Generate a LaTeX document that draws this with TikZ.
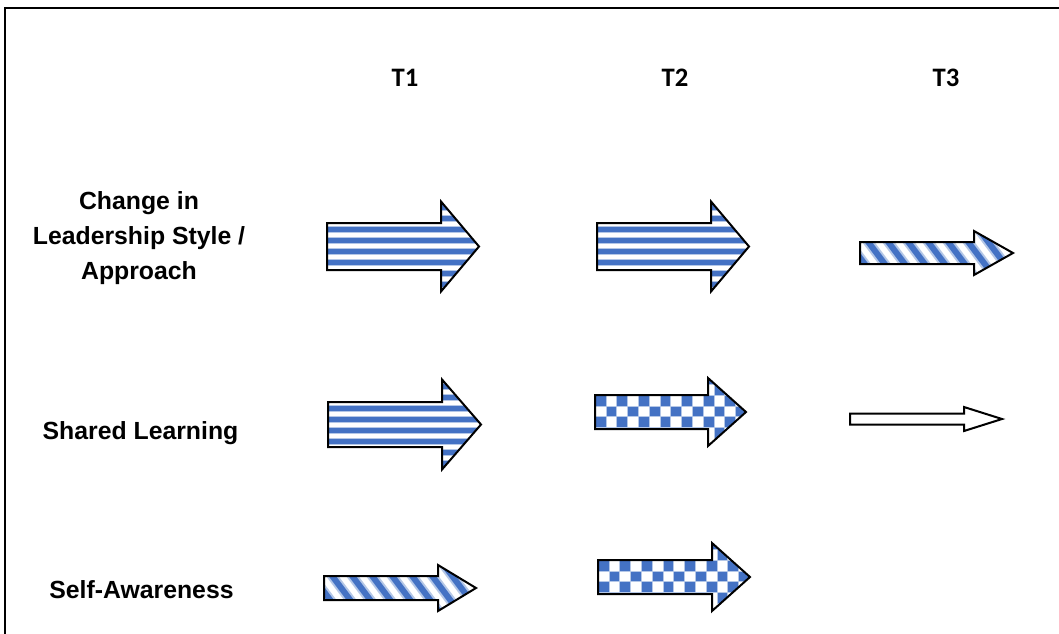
\documentclass[tikz,border=0pt]{standalone}
\usepackage{fontspec}
\setmainfont{Liberation Sans}
\newfontfamily\headfont{Carlito}
\definecolor{stripeblue}{HTML}{4472C4}
\definecolor{stripelight}{HTML}{B4C7E7}
\tikzset{
  outline/.style={draw=black, line width=1.5pt, line join=miter},
  framerule/.style={draw=black, line width=1.5pt},
  rowlabel/.style={font=\bfseries\fontsize{18.6}{26}\selectfont, align=center, inner sep=0pt},
  collabel/.style={font=\headfont\bfseries\fontsize{20}{24}\selectfont, inner sep=0pt},
}
% fill patterns; they use \pl,\pr (left/right), \pt,\pb (top/bottom) and \bt (top of the shaft)
\newcommand\hstripes{%
  \foreach \k in {-3,...,6}{%
    \pgfmathsetmacro\yy{\bt+6.5+11*\k}
    \fill[stripelight] ({\pl},{\yy-3.8}) rectangle ({\pr},{\yy+3.8});
    \fill[stripeblue] ({\pl},{\yy-2.2}) rectangle ({\pr},{\yy+2.2});
  }}
\newcommand\dstripes{%
  \foreach \k in {-8,...,10}{%
    \pgfmathsetmacro\xx{\pl+20*\k}
    \draw[stripelight, line width=7.5pt] ({\xx},{\pt}) -- ({\xx+0.75*(\pb-\pt)},{\pb});
    \draw[stripeblue, line width=4.5pt] ({\xx},{\pt}) -- ({\xx+0.75*(\pb-\pt)},{\pb});
  }}
\newcommand\checks{%
  \foreach \j in {-2,...,3}{%
    \pgfmathsetmacro\off{mod(\j+20,2)*10.8}
    \foreach \i in {0,...,8}{%
      \fill[stripeblue, draw=stripelight, line width=0.4pt]
        ({\pl+\off+21.6*\i},{\bt+10.8*\j}) rectangle +(10.8,10.8);
    }}}
\newcommand\nofill{}
% block arrow: #1 name, #2 tail x, #3 head base x, #4 tip x, #5 axis y,
% #6 shaft half height, #7 head half height, #8 fill pattern
\newcommand\blockarrow[8]{%
  \pgfmathsetmacro\pl{#2}\pgfmathsetmacro\pr{#4}
  \pgfmathsetmacro\pt{#5-#7}\pgfmathsetmacro\pb{#5+#7}
  \pgfmathsetmacro\bt{#5-#6}
  \coordinate (#1-tail) at (#2,#5);
  \coordinate (#1-tip) at (#4,#5);
  \begin{scope}
    \clip (#2,{#5-#6}) -- (#3,{#5-#6}) -- (#3,{#5-#7}) -- (#4,#5)
      -- (#3,{#5+#7}) -- (#3,{#5+#6}) -- (#2,{#5+#6}) -- cycle;
    \fill[white] (#2,{#5-#7}) rectangle (#4,{#5+#7});
    #8
  \end{scope}
  \draw[outline] (#2,{#5-#6}) -- (#3,{#5-#6}) -- (#3,{#5-#7}) -- (#4,#5)
      -- (#3,{#5+#7}) -- (#3,{#5+#6}) -- (#2,{#5+#6}) -- cycle;
}
\begin{document}
\begin{tikzpicture}[x=0.75pt, y=-0.75pt]
  \useasboundingbox (0,0) rectangle (1059,633);
  % open frame: top and left rules
  \draw[framerule] (1062,7.5) -- (5,7.5) -- (5,636);

  % column headings
  \node[collabel] (t1) at (405,78) {T1};
  \node[collabel] (t2) at (675,78) {T2};
  \node[collabel] (t3) at (946,78) {T3};

  % row headings
  \node[rowlabel] (leadership) at (139,238) {Change in\\Leadership Style /\\Approach};
  \node[rowlabel] (shared) at (140.5,433) {Shared Learning};
  \node[rowlabel] (selfaware) at (141.5,590) {Self-Awareness};

  % leadership style row
  \blockarrow{lead1}{327}{441}{479}{246.5}{23.5}{45}{\hstripes}
  \blockarrow{lead2}{597}{711}{749}{246.5}{23.5}{45}{\hstripes}
  \blockarrow{lead3}{860}{974}{1013}{253}{11}{22}{\dstripes}

  % shared learning row
  \blockarrow{share1}{328}{442}{481}{424.5}{22.5}{45}{\hstripes}
  \blockarrow{share2}{595}{708}{746}{412}{17}{34}{\checks}
  \blockarrow{share3}{850}{964}{1002}{419}{5.5}{12}{\nofill}

  % self-awareness row
  \blockarrow{self1}{324}{438}{476}{588}{12}{23}{\dstripes}
  \blockarrow{self2}{598}{712}{750}{577}{17}{34}{\checks}
\end{tikzpicture}
\end{document}
